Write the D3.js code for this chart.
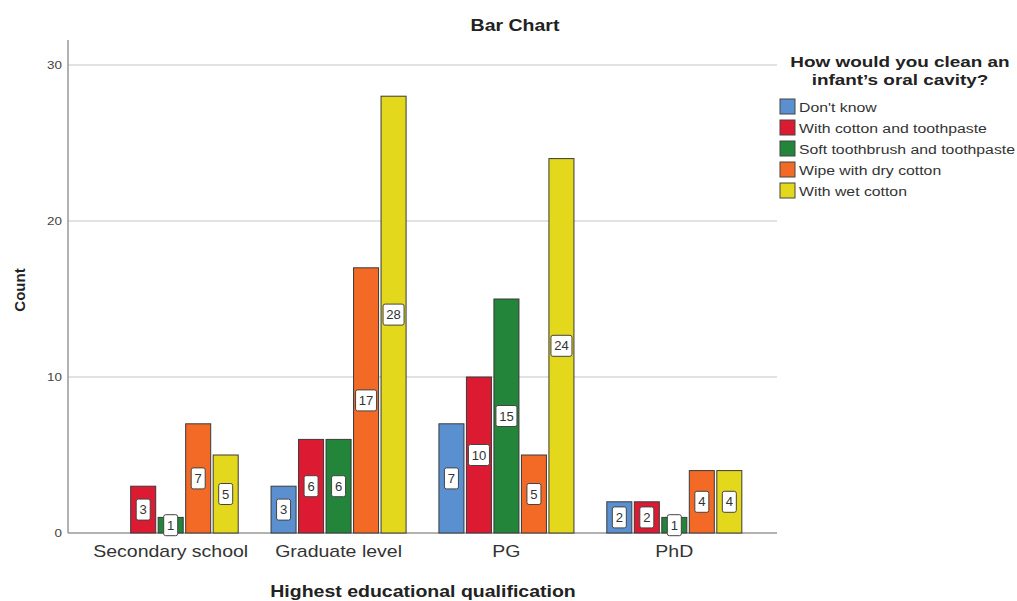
<!DOCTYPE html>
<html><head><meta charset="utf-8">
<script src="https://cdn.jsdelivr.net/npm/d3@7"></script>
<style>body{margin:0;background:#fff}svg{display:block;font-family:"Liberation Sans",Arial,sans-serif}</style>
</head><body><svg id="c" width="1017" height="601"></svg>
<script>
const categories = ["Secondary school","Graduate level","PG","PhD"];
const seriesNames = ["Don't know","With cotton and toothpaste","Soft toothbrush and toothpaste","Wipe with dry cotton","With wet cotton"];
const dontKnow   = [0, 3, 7, 2];
const cottonPaste= [3, 6, 10, 2];
const softBrush  = [1, 6, 15, 1];
const dryCotton  = [7, 17, 5, 4];
const wetCotton  = [5, 28, 24, 4];
const yTicks = [0, 10, 20, 30];
const colors = ["#5b90d0","#dc1b33","#23853a","#f26a25","#e3d81b"];
const series = [dontKnow, cottonPaste, softBrush, dryCotton, wetCotton];

const SX = 1.22; // horizontal stretch of the reference rendering
const svg = d3.select("#c");
const L = 68, R = 777, T = 40, B = 533;
const y = d3.scaleLinear().domain([0, 30]).range([B, 65]);
const x0 = d3.scaleBand().domain(categories).range([L + 18.75, R - 18.75]).paddingInner(0);
const x1 = d3.scaleBand().domain(d3.range(5)).range([0, 137.5]).paddingInner(0.09).paddingOuter(0.045);

function stext(parent, x, yy, txt, size, opts = {}) {
  return parent.append("text")
    .attr("transform", `translate(${x},${yy}) scale(${opts.sx || SX},1)`)
    .attr("text-anchor", opts.anchor || "middle")
    .attr("font-size", size)
    .attr("font-weight", opts.bold ? "bold" : null)
    .attr("fill", opts.fill || "#222")
    .text(txt);
}

// gridlines
svg.append("g").selectAll("line").data(yTicks.filter(d => d > 0)).join("line")
  .attr("x1", L).attr("x2", R).attr("y1", d => y(d)).attr("y2", d => y(d))
  .attr("stroke", "#d9d9d9").attr("stroke-width", 1.5);

// axes
const yAxis = d3.axisLeft(y).tickValues(yTicks).tickSize(0).tickPadding(5);
const gy = svg.append("g").attr("transform", `translate(${L},0)`).call(yAxis);
gy.select(".domain").remove();
gy.selectAll("text").attr("font-size", 11).attr("fill", "#444")
  .attr("font-family", "Liberation Sans, Arial, sans-serif")
  .attr("transform", `scale(${SX},1)`);
svg.append("line").attr("x1", L).attr("x2", L).attr("y1", T).attr("y2", B).attr("stroke", "#999").attr("stroke-width", 1.5);

const xAxis = d3.axisBottom(x0).tickSize(0).tickPadding(13);
const gx = svg.append("g").attr("transform", `translate(0,${B})`).call(xAxis);
gx.select(".domain").remove();
gx.selectAll("text").attr("font-size", 16).attr("fill", "#333")
  .attr("font-family", "Liberation Sans, Arial, sans-serif")
  .attr("transform", `scale(${SX},1)`);
svg.append("line").attr("x1", L).attr("x2", R).attr("y1", B).attr("y2", B).attr("stroke", "#999").attr("stroke-width", 1.5);

// bars
const groups = svg.append("g").selectAll("g").data(categories).join("g")
  .attr("transform", d => `translate(${x0(d) + x0.bandwidth()/2 - 68.75},0)`);
const cells = groups.selectAll("g.cell").data((c, ci) => series.map((s, si) => ({si, v: s[ci]})).filter(d => d.v > 0))
  .join("g").attr("class", "cell");
cells.append("rect")
  .attr("x", d => x1(d.si)).attr("width", x1.bandwidth())
  .attr("y", d => y(d.v)).attr("height", d => B - y(d.v))
  .attr("fill", d => colors[d.si]).attr("stroke", "#3a3a3a").attr("stroke-width", 1);
cells.each(function(d) {
  const g = d3.select(this);
  const cx = x1(d.si) + x1.bandwidth()/2;
  const cy = (y(d.v) + B) / 2;
  const w = String(d.v).length > 1 ? 21 : 14;
  g.append("rect").attr("x", cx - w/2).attr("y", cy - 10.5).attr("width", w).attr("height", 21)
    .attr("rx", 2).attr("fill", "#fff").attr("stroke", "#444").attr("stroke-width", 1);
  stext(g, cx, cy + 4.5, d.v, 12.5, {fill: "#333", sx: 1.05});
});

// titles
stext(svg, 515, 31, "Bar Chart", 16, {bold: true});
svg.append("text").attr("transform", "translate(25,290) rotate(-90)").attr("text-anchor", "middle")
  .attr("font-size", 15).attr("font-weight", "bold").attr("fill", "#222").text("Count");
stext(svg, 423, 597, "Highest educational qualification", 16, {bold: true});

// legend
const lg = svg.append("g");
stext(lg, 900, 67, "How would you clean an", 15.5, {bold: true, sx: 1.22});
stext(lg, 900, 85, "infant\u2019s oral cavity?", 15.5, {bold: true, sx: 1.22});
const items = lg.selectAll("g.item").data(seriesNames).join("g").attr("class", "item")
  .attr("transform", (d, i) => `translate(780,${99 + i * 21})`);
items.append("rect").attr("width", 15).attr("height", 15).attr("fill", (d, i) => colors[i])
  .attr("stroke", "#444").attr("stroke-width", 1);
items.each(function(d) {
  stext(d3.select(this), 19, 13, d, 13.5, {anchor: "start", fill: "#333", sx: 1.17});
});
</script></body></html>
